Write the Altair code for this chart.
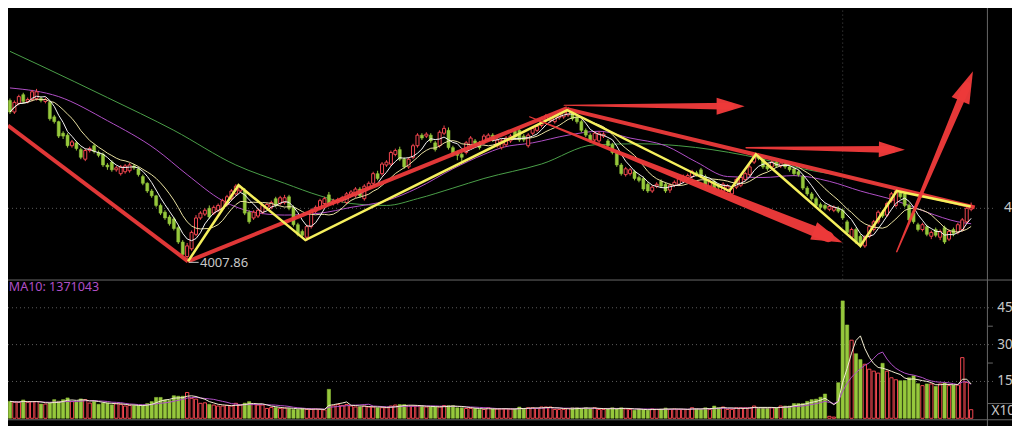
import altair as alt
import pandas as pd

# ---------------- data (prices in index points, volume in units of 10万) ----------------
opens = [4342,4318,4336,4354,4340,4344,4346,4346,4340,4338,
         4308,4298,4274,4270,4248,4254,4240,4220,4238,4248,
         4234,4230,4208,4214,4198,4190,4194,4196,4206,4200,
         4184,4170,4154,4144,4124,4110,4100,4096,4078,4048,
         4018,4034,4064,4098,4106,4118,4108,4114,4118,4126,
         4138,4148,4154,4154,4110,4098,4102,4110,4120,4120,
         4138,4128,4130,4142,4120,4084,4070,4058,4080,4112,
         4118,4128,4146,4128,4130,4134,4130,4146,4144,4158,
         4138,4160,4170,4190,4190,4208,4210,4230,4240,4220,
         4204,4224,4248,4270,4268,4270,4254,4248,4274,4280,
         4244,4234,4230,4234,4248,4258,4254,4254,4262,4270,
         4248,4244,4250,4258,4278,4280,4268,4248,4274,4280,
         4290,4302,4300,4298,4306,4308,4312,4318,4308,4298,
         4280,4270,4260,4258,4268,4258,4250,4234,4208,4188,
         4190,4194,4182,4180,4168,4154,4164,4174,4168,4156,
         4166,4168,4174,4182,4184,4192,4198,4184,4164,4174,
         4166,4154,4156,4148,4162,4166,4178,4188,4214,4228,
         4220,4206,4204,4214,4206,4210,4204,4200,4194,4184,
         4160,4148,4138,4126,4124,4116,4114,4118,4114,4090,
         4058,4074,4060,4040,4060,4074,4090,4110,4104,4134,
         4124,4150,4148,4124,4108,4084,4074,4080,4060,4074,
         4058,4078,4054,4074,4068,4074,4090,4116]
closes = [4318,4338,4350,4340,4344,4360,4360,4342,4344,4304,
          4298,4268,4268,4248,4256,4242,4224,4238,4242,4236,
          4228,4208,4204,4198,4202,4204,4206,4208,4202,4188,
          4170,4154,4144,4124,4108,4098,4086,4076,4048,4022,
          4040,4068,4098,4108,4114,4100,4120,4124,4134,4142,
          4154,4164,4162,4108,4090,4110,4114,4124,4126,4130,
          4124,4140,4140,4118,4084,4064,4062,4080,4114,4120,
          4134,4138,4128,4134,4136,4140,4148,4152,4158,4144,
          4164,4170,4190,4180,4210,4214,4234,4238,4220,4204,
          4220,4248,4270,4264,4272,4258,4240,4276,4284,4244,
          4230,4228,4224,4254,4264,4252,4244,4268,4270,4260,
          4260,4258,4264,4268,4266,4260,4260,4270,4284,4288,
          4304,4310,4306,4308,4314,4320,4322,4304,4298,4280,
          4270,4258,4274,4274,4272,4248,4234,4208,4190,4200,
          4198,4180,4176,4158,4154,4162,4168,4164,4154,4166,
          4172,4180,4184,4186,4194,4188,4184,4164,4174,4160,
          4162,4168,4164,4160,4178,4182,4190,4204,4228,4222,
          4204,4200,4214,4206,4212,4204,4198,4190,4188,4160,
          4148,4138,4124,4120,4118,4122,4120,4112,4098,4068,
          4074,4048,4040,4058,4080,4090,4110,4102,4128,4148,
          4154,4142,4124,4094,4090,4074,4084,4064,4068,4062,
          4070,4048,4070,4066,4084,4094,4118,4124]
highs = [4346,4342,4354,4358,4348,4364,4366,4350,4348,4342,
         4312,4300,4278,4274,4260,4258,4244,4242,4246,4252,
         4238,4234,4212,4218,4206,4208,4210,4212,4210,4204,
         4188,4172,4158,4146,4128,4114,4104,4100,4082,4052,
         4046,4072,4104,4112,4118,4124,4124,4128,4138,4146,
         4158,4168,4166,4160,4114,4114,4118,4128,4130,4134,
         4142,4144,4146,4146,4124,4088,4074,4084,4118,4124,
         4138,4142,4152,4138,4140,4144,4152,4156,4162,4162,
         4168,4174,4194,4196,4214,4218,4238,4242,4246,4224,
         4224,4252,4274,4274,4276,4274,4258,4280,4290,4286,
         4248,4238,4234,4258,4268,4262,4258,4272,4274,4274,
         4264,4262,4268,4272,4282,4284,4272,4274,4288,4292,
         4308,4314,4310,4312,4318,4324,4328,4322,4312,4302,
         4284,4274,4278,4278,4276,4262,4254,4238,4212,4204,
         4202,4198,4186,4184,4172,4166,4172,4178,4172,4170,
         4176,4184,4188,4190,4198,4196,4202,4188,4178,4178,
         4170,4172,4168,4164,4182,4186,4194,4208,4232,4232,
         4224,4210,4218,4218,4216,4214,4208,4204,4198,4188,
         4164,4152,4142,4130,4128,4126,4124,4122,4118,4094,
         4078,4078,4064,4062,4084,4094,4114,4114,4132,4152,
         4158,4156,4152,4128,4112,4088,4088,4084,4072,4078,
         4074,4082,4074,4078,4088,4098,4122,4130]
lows = [4314,4314,4332,4336,4336,4340,4342,4338,4336,4300,
        4294,4264,4262,4244,4244,4238,4220,4216,4234,4232,
        4224,4204,4198,4194,4194,4186,4190,4192,4198,4184,
        4166,4150,4140,4120,4104,4094,4082,4072,4044,4018,
        4007.86,4030,4060,4094,4102,4096,4104,4110,4114,4122,
        4134,4144,4150,4104,4086,4094,4098,4106,4116,4116,
        4120,4124,4126,4114,4080,4060,4058,4050,4076,4108,
        4114,4124,4124,4124,4126,4130,4126,4142,4140,4140,
        4134,4156,4166,4176,4186,4204,4206,4226,4216,4200,
        4200,4220,4244,4260,4264,4254,4236,4244,4270,4240,
        4226,4218,4216,4230,4244,4248,4240,4250,4258,4256,
        4244,4240,4246,4254,4262,4256,4256,4244,4270,4276,
        4286,4298,4296,4294,4302,4304,4308,4300,4294,4276,
        4266,4254,4256,4254,4264,4244,4230,4204,4186,4184,
        4186,4176,4172,4154,4150,4150,4160,4160,4150,4150,
        4162,4164,4170,4178,4180,4184,4180,4160,4160,4156,
        4158,4150,4152,4146,4158,4162,4174,4184,4210,4218,
        4200,4196,4200,4202,4202,4200,4194,4186,4184,4156,
        4144,4134,4120,4116,4114,4112,4110,4108,4094,4064,
        4054,4044,4036,4036,4056,4070,4086,4098,4100,4130,
        4120,4138,4120,4090,4086,4070,4070,4060,4054,4058,
        4052,4044,4050,4060,4064,4070,4086,4112]
volumes = [6.9,6.5,6.5,7.5,6.5,6.8,6.8,5.8,5.8,6.2,
           7.6,7.0,7.6,8.3,6.8,6.8,7.9,7.6,6.2,6.8,
           5.7,6.2,6.2,5.5,6.0,5.6,5.0,5.2,5.2,5.2,
           5.2,6.0,6.8,8.5,8.5,7.5,7.3,9.2,9.0,9.0,
           10.5,8.1,7.8,6.1,6.3,5.7,5.4,5.0,5.0,5.3,
           5.0,6.1,5.4,6.2,6.8,5.7,5.4,5.4,4.0,4.4,
           4.4,4.0,4.2,4.0,3.6,3.6,4.0,3.6,3.6,3.8,
           3.6,3.4,11.8,5.1,5.6,5.2,5.6,5.0,4.6,4.6,
           5.0,4.6,4.6,4.3,4.3,4.3,5.0,5.4,5.6,5.6,
           5.0,5.0,5.0,5.0,4.6,4.6,4.6,4.6,5.2,5.2,
           5.2,4.3,4.3,4.0,4.0,4.0,3.6,3.6,4.3,3.8,
           3.8,3.8,3.8,3.8,3.8,4.6,4.0,4.3,4.3,4.0,
           4.6,4.6,4.6,3.6,3.6,3.6,4.0,4.3,4.3,4.0,
           4.3,4.0,4.3,3.6,3.6,3.8,4.3,4.0,4.3,3.8,
           3.6,3.3,3.8,3.6,3.3,3.8,3.6,3.8,4.2,3.6,
           3.8,3.6,3.6,3.6,4.3,3.9,3.6,4.3,3.6,5.0,
           4.3,4.6,3.6,3.6,4.3,4.3,4.3,4.3,5.0,4.3,
           4.3,4.3,4.3,4.3,5.0,5.0,5.0,6.0,6.0,6.0,
           6.9,7.6,7.8,8.6,9.9,0.8,0.5,14.5,47.8,38.0,
           31.8,26.3,23.9,22.0,20.0,19.2,18.4,22.4,19.2,16.5,
           15.7,15.3,15.4,16.5,17.3,14.1,13.3,14.0,14.0,13.0,
           14.0,14.4,13.3,13.5,13.5,24.7,14.6,3.5]
bar_index = list(range(len(opens)))

# longer moving averages (index, value)
ma30_idx = [0,11,22,33,40,48,55,62,70,77,85,92,100,107,111,118,126,133,140,148,155,162,170,177,185,192,200,207,214,217]
ma30_val = [4368,4350,4300,4240,4188,4134,4110,4104,4108,4120,4134,4160,4200,4230,4244,4254,4270,4278,4264,4248,4214,4184,4182,4186,4174,4154,4134,4110,4090,4086]
ma60_idx = [0,7,22,37,51,62,70,77,85,92,100,107,120,132,142,151,166,179,194,201,216,217]
ma60_val = [4444,4414,4348,4280,4208,4170,4144,4128,4124,4138,4160,4180,4210,4250,4252,4248,4228,4200,4174,4154,4124,4122]

# hand-drawn annotations (index, price)
trend_id = ["t1","t1","t2","t2","t3","t3"]
trend_idx = [-0.444,40.2,40.2,125.8,125.8,217.8]
trend_val = [4290,4008,4008,4326,4324,4120]
zig_idx = [40.2,51.6,66.7,125.8,162.4,168.4,192.0,200.2,216.9]
zig_val = [4008,4166,4052,4322,4154,4230,4040,4154,4122]
arrow_id = ["a1","a1","a2","a2","a3","a3","a4","a4"]
arrow_idx = [125.1,162.7,166.2,199.1,117.3,184.7,200.2,216.0]
arrow_val = [4332,4330,4244,4240,4308,4059,4028,4372]
arrow_w = [1,7,1.5,7,1,11,1.5,8]
head_idx = [162.7,199.1,184.7,216.0]
head_val = [4330,4240,4059,4372]
head_len = [28,26,31,32]
head_angle = [90,91,112,23]

price_grid = [4118]
vol_grid = [45,30,15]
vol_minor = [37.5,22.5]

# ---------------- styling ----------------
RED = "#f0464f"
GREEN = "#96c83c"
ARED = "#ec3a3a"
YEL = "#f5ef5c"
PURPLE = "#b04fc6"
MA60C = "#4a9e48"
GRID = "#5a5a5a"
AXIS = "#686868"
LBL = "#c8c8c8"
FONT = "Noto Sans"

XMIN, XMAX = -0.4444, 226.2222
AXIS_X = 220.67
P_LO, P_HI = 3666, 4534          # price scale spans the whole picture height
V_LO, V_HI = -3.137, 167.06      # volume scale spans the whole picture height
xs = alt.Scale(domain=[XMIN, XMAX], nice=False, zero=False)
ys = alt.Scale(domain=[P_LO, P_HI], nice=False, zero=False)
vs = alt.Scale(domain=[V_LO, V_HI], nice=False, zero=False)

def X(f):
    return alt.X(f, type="quantitative", scale=xs, axis=None)

def Y(f):
    return alt.Y(f, type="quantitative", scale=ys, axis=None)

def V(f):
    return alt.Y(f, type="quantitative", scale=vs, axis=None)

cdf = pd.DataFrame({"i": bar_index, "o": opens, "c": closes, "h": highs, "l": lows, "v": volumes})
base = alt.Chart(cdf).transform_calculate(
    x1="datum.i - 0.34", x2="datum.i + 0.34",
    vx1="datum.i - 0.37", vx2="datum.i + 0.37",
    col=f"datum.c >= datum.o ? '{RED}' : '{GREEN}'", zero="0")

# ---------------- price panel ----------------
pg = pd.DataFrame({"y": price_grid, "x0": [XMIN] * len(price_grid), "x1": [222.4] * len(price_grid),
                   "lx": [224.4] * len(price_grid), "t": [f"{v:.2f}" for v in price_grid]})
grid_p = alt.Chart(pg).mark_rule(color=GRID, strokeDash=[1, 3], strokeWidth=1).encode(x=X("x0"), x2="x1", y=Y("y"))
plabel = alt.Chart(pg).mark_text(color=LBL, font=FONT, fontSize=14, align="left", baseline="middle", clip=True).encode(
    x=X("lx"), y=Y("y"), text="t:N")
axis_all = alt.Chart(pd.DataFrame({"x": [AXIS_X], "y0": [P_LO], "y1": [P_HI]})).mark_rule(
    color=AXIS, strokeWidth=1).encode(x=X("x"), y=Y("y0"), y2="y1")
cross_l = alt.Chart(pd.DataFrame({"x": [188], "y0": [3970], "y1": [4534]})).mark_rule(
    color="#4a4a4a", strokeDash=[1, 3], strokeWidth=1).encode(x=X("x"), y=Y("y0"), y2="y1")

m60 = alt.Chart(pd.DataFrame({"i": ma60_idx, "p": ma60_val})).mark_line(
    color=MA60C, strokeWidth=1, interpolate="monotone").encode(x=X("i"), y=Y("p"))
m30 = alt.Chart(pd.DataFrame({"i": ma30_idx, "p": ma30_val})).mark_line(
    color=PURPLE, strokeWidth=1, interpolate="monotone").encode(x=X("i"), y=Y("p"))

wick = base.mark_rule(strokeWidth=1).encode(x=X("i"), y=Y("l"), y2="h", color=alt.Color("col:N", scale=None))
body_up = base.transform_filter("datum.c >= datum.o").mark_rect(fill="#000000", stroke=RED, strokeWidth=1).encode(
    x=X("x1"), x2="x2:Q", y=Y("o"), y2="c:Q")
body_dn = base.transform_filter("datum.c < datum.o").mark_rect(fill=GREEN, stroke=GREEN, strokeWidth=0.5).encode(
    x=X("x1"), x2="x2:Q", y=Y("o"), y2="c:Q")

ma10 = base.transform_window(m="mean(c)", frame=[-9, 0], sort=[alt.SortField("i")]).mark_line(
    color="#e8e0a0", strokeWidth=1).encode(x=X("i"), y=Y("m"))
ma5 = base.transform_window(m="mean(c)", frame=[-4, 0], sort=[alt.SortField("i")]).mark_line(
    color="#f4f4f4", strokeWidth=1).encode(x=X("i"), y=Y("m"))

trend = alt.Chart(pd.DataFrame({"id": trend_id, "i": trend_idx, "p": trend_val})).mark_line(
    color=ARED, strokeWidth=4, opacity=0.95).encode(x=X("i"), y=Y("p"), detail="id:N")
zig = alt.Chart(pd.DataFrame({"i": zig_idx, "p": zig_val})).mark_line(
    color=YEL, strokeWidth=2.5).encode(x=X("i"), y=Y("p"))
shafts = alt.Chart(pd.DataFrame({"id": arrow_id, "i": arrow_idx, "p": arrow_val, "w": arrow_w})).mark_trail(
    color=ARED, opacity=0.97).encode(x=X("i"), y=Y("p"), size=alt.Size("w:Q", scale=None), detail="id:N")
heads = alt.Chart(pd.DataFrame({"i": head_idx, "p": head_val, "s": [l * l for l in head_len], "a": head_angle})).mark_point(
    shape="M0,-1L0.6,1L-0.6,1Z", filled=True, color=ARED, opacity=0.97, strokeWidth=0).encode(
    x=X("i"), y=Y("p"), size=alt.Size("s:Q", scale=None), angle=alt.Angle("a:Q", scale=None))

low_val = min(lows)
low_i = bar_index[lows.index(low_val)]
lowdf = pd.DataFrame({"x0": [low_i + 0.4], "x1": [low_i + 2.6], "y": [low_val - 2],
                      "tx": [low_i + 2.9], "ty": [low_val - 3], "t": [f"{low_val:.2f}"]})
low_rule = alt.Chart(lowdf).mark_rule(color=LBL, strokeWidth=1).encode(x=X("x0"), x2="x1", y=Y("y"))
low_txt = alt.Chart(lowdf).mark_text(color=LBL, font=FONT, fontSize=13, align="left", baseline="middle").encode(
    x=X("tx"), y=Y("ty"), text="t:N")

# ---------------- volume panel ----------------
vg = pd.DataFrame({"y": vol_grid, "x0": [XMIN] * 3, "x1": [222.2] * 3, "lx": [222.9] * 3,
                   "t": [str(v) for v in vol_grid]})
grid_v = alt.Chart(vg).mark_rule(color=GRID, strokeDash=[1, 3], strokeWidth=1).encode(x=X("x0"), x2="x1", y=V("y"))
vlabel = alt.Chart(vg).mark_text(color=LBL, font=FONT, fontSize=13.5, align="left", baseline="middle", clip=True).encode(
    x=X("lx"), y=V("y"), text="t:N")
minor = alt.Chart(pd.DataFrame({"y": vol_minor, "x0": [AXIS_X] * 2, "x1": [221.9] * 2})).mark_rule(
    color=AXIS, strokeWidth=1).encode(x=X("x0"), x2="x1", y=V("y"))

vbar_up = base.transform_filter("datum.c >= datum.o").mark_rect(fill="#000000", stroke=RED, strokeWidth=1).encode(
    x=X("vx1"), x2="vx2:Q", y=V("zero"), y2="v:Q")
vbar_dn = base.transform_filter("datum.c < datum.o").mark_rect(fill=GREEN, stroke=GREEN, strokeWidth=0.5).encode(
    x=X("vx1"), x2="vx2:Q", y=V("zero"), y2="v:Q")
vma10 = base.transform_window(m="mean(v)", frame=[-9, 0], sort=[alt.SortField("i")]).mark_line(
    color=PURPLE, strokeWidth=1).encode(x=X("i"), y=V("m"))
vma5 = base.transform_window(m="mean(v)", frame=[-4, 0], sort=[alt.SortField("i")]).mark_line(
    color="#f2ecd0", strokeWidth=1).encode(x=X("i"), y=V("m"))

hl = pd.DataFrame({"x0": [XMIN, XMIN, AXIS_X], "x1": [XMAX, XMAX, XMAX], "y": [56.3, -0.6, 6.0]})
hlines = alt.Chart(hl).mark_rule(color=AXIS, strokeWidth=1).encode(x=X("x0"), x2="x1", y=V("y"))
unit_txt = alt.Chart(pd.DataFrame({"x": [221.6], "y": [3.1], "t": ["X10万"]})).mark_text(
    color=LBL, font=FONT, fontSize=13.5, align="left", baseline="middle", clip=True).encode(x=X("x"), y=V("y"), text="t:N")
ma_txt = alt.Chart(pd.DataFrame({"x": [-0.25], "y": [53.3], "t": ["MA10: 1371043"]})).mark_text(
    color=PURPLE, font=FONT, fontSize=12.5, align="left", baseline="middle").encode(x=X("x"), y=V("y"), text="t:N")

chart = alt.layer(
    grid_p, cross_l, m60, m30, wick, body_up, body_dn, ma10, ma5,
    trend, zig, shafts, heads, low_rule, low_txt, plabel,
    grid_v, vbar_up, vbar_dn, vma10, vma5, hlines, minor, vlabel, unit_txt, ma_txt, axis_all
).resolve_scale(y="independent").properties(
    width=1004, height=418, padding=0, background="#000000",
    autosize=alt.AutoSizeParams(type="none")
).configure_view(stroke=None)
chart.save("out.html", embed_options={"renderer": "svg", "actions": False})
